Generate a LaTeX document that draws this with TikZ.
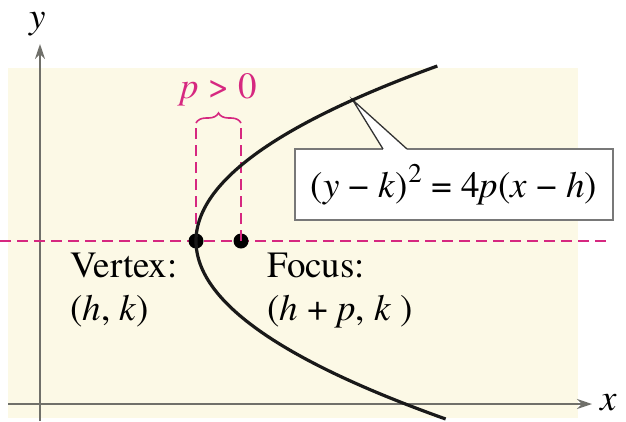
\documentclass[tikz,border=0pt]{standalone}
\usepackage{fontspec}
\setmainfont{TeX Gyre Termes}
\usetikzlibrary{decorations.pathreplacing,arrows.meta}
\definecolor{bgcream}{RGB}{252,249,230}
\definecolor{mag}{RGB}{214,40,128}
\definecolor{axisgray}{RGB}{112,112,106}
\definecolor{boxgray}{RGB}{120,120,120}
\begin{document}
\begin{tikzpicture}[x=1pt,y=-1pt,
  lbl/.style={font=\fontsize{37}{40}\selectfont, inner sep=0pt},
  axisline/.style={draw=axisgray, line width=1.8pt, -{Stealth[length=15pt,width=10pt]}},
  guide/.style={draw=mag, line width=1.8pt, dash pattern=on 11pt off 6pt},
  dotmark/.style={circle, fill=black, inner sep=0pt, minimum size=15pt},
  curveline/.style={draw=black!90, line width=3.2pt},
  leader/.style={draw=black!80, line width=1.3pt},
  formulabox/.style={draw=boxgray, line width=1.6pt, fill=white, minimum width=318pt, minimum height=71pt, inner sep=0pt, font=\fontsize{37}{40}\selectfont}
  ]
\useasboundingbox (0,0) rectangle (626,421);
\fill[bgcream] (8,68) rectangle (578,418);
% axes
\coordinate (xs) at (8,404);
\coordinate (xe) at (592,404);
\coordinate (ys) at (40,421);
\coordinate (ye) at (40,44);
\draw[axisline] (xs) -- (xe);
\draw[axisline] (ys) -- (ye);
\node[lbl, anchor=base west] (xl) at (600,410) {\textit{x}};
\node[lbl, anchor=base] (yl) at (38,28) {\textit{y}};
% guide lines
\coordinate (hl) at (0,241);
\coordinate (hr) at (612,241);
\draw[guide] (hl) -- (hr);
\coordinate (vtop) at (196,123);
\coordinate (ftop) at (241,123);
\node[dotmark] (vertex) at (196,241) {};
\node[dotmark] (focus) at (241,241) {};
\draw[guide] (vertex.center) -- (vtop);
\draw[guide] (focus.center) -- (ftop);
\draw[mag, line width=1.6pt, decorate, decoration={brace, amplitude=10pt}] (vtop) -- (ftop);
\node[lbl, anchor=base, text=mag] (pgt) at (219,98) {\textit{p} > 0};
% formula box
\node[formulabox] (eq) at (454,184.5) {(\textit{y} − \textit{k})\raisebox{0.42em}{\fontsize{27}{27}\selectfont 2} = 4\textit{p}(\textit{x} − \textit{h})};
\coordinate (tip) at (352.7,100);
\coordinate (wl) at (383,149);
\coordinate (wr) at (407,149);
\fill[white] (tip) -- (wl) -- (wr) -- cycle;
\fill[white] ([yshift=-1.5pt]wl) rectangle ([yshift=1.5pt]wr);
\draw[leader] (wl) -- (tip) -- (wr);
% parabola
\draw[curveline] plot[domain=-1.75:1.78, samples=120, smooth] ({196+78.8*\x*\x},{241+100*\x});
% labels
\node[lbl, anchor=base west] (vlab) at (70,277) {Vertex:};
\node[lbl, anchor=base west] (vco) at (70,320) {(\textit{h}, \textit{k})};
\node[lbl, anchor=base west] (flab) at (267,277) {Focus:};
\node[lbl, anchor=base west] (fco) at (267,320) {(\textit{h} + \textit{p}, \textit{k} )};
\end{tikzpicture}
\end{document}
